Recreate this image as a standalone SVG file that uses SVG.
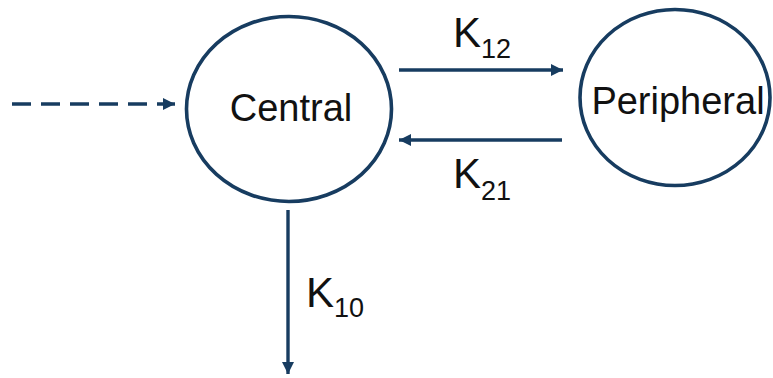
<svg xmlns="http://www.w3.org/2000/svg" width="773" height="378" viewBox="0 0 773 378">
<defs>
<style>
.node{fill:#fff;stroke:#173c60;stroke-width:3.6}
.edge{stroke:#173c60;stroke-width:3.4;fill:none}
.lbl{font-family:"Liberation Sans",Arial,sans-serif;fill:#111;font-size:38px}
.k{font-family:"Liberation Sans",Arial,sans-serif;fill:#111;font-size:42px}
.sub{font-size:27px}
</style>
<marker id="ah" viewBox="0 0 10 10" refX="10" refY="5" markerWidth="12" markerHeight="12" markerUnits="userSpaceOnUse" orient="auto">
<path d="M0,0 L10,5 L0,10 z" fill="#173c60"/>
</marker>
</defs>
<rect width="773" height="378" fill="#fff"/>
<g id="connectors">
<path class="edge" d="M12,104 H175" stroke-dasharray="19,10" marker-end="url(#ah)"/>
<line class="edge" x1="399" y1="70" x2="563" y2="70" marker-end="url(#ah)"/>
<line class="edge" x1="562" y1="140" x2="399" y2="140" marker-end="url(#ah)"/>
<line class="edge" x1="288" y1="210" x2="288" y2="374" marker-end="url(#ah)"/>
<text class="k" x="453" y="47">K<tspan class="sub" dy="11">12</tspan></text>
<text class="k" x="453" y="188">K<tspan class="sub" dy="12">21</tspan></text>
<text class="k" x="306" y="307">K<tspan class="sub" dy="10">10</tspan></text>
</g>
<g id="central">
<ellipse class="node" cx="289" cy="109" rx="102.5" ry="92.5"/>
<text class="lbl" x="291" y="121" text-anchor="middle">Central</text>
</g>
<g id="peripheral">
<ellipse class="node" cx="675" cy="97.5" rx="95" ry="88"/>
<text class="lbl" x="678" y="114" text-anchor="middle">Peripheral</text>
</g>
</svg>
